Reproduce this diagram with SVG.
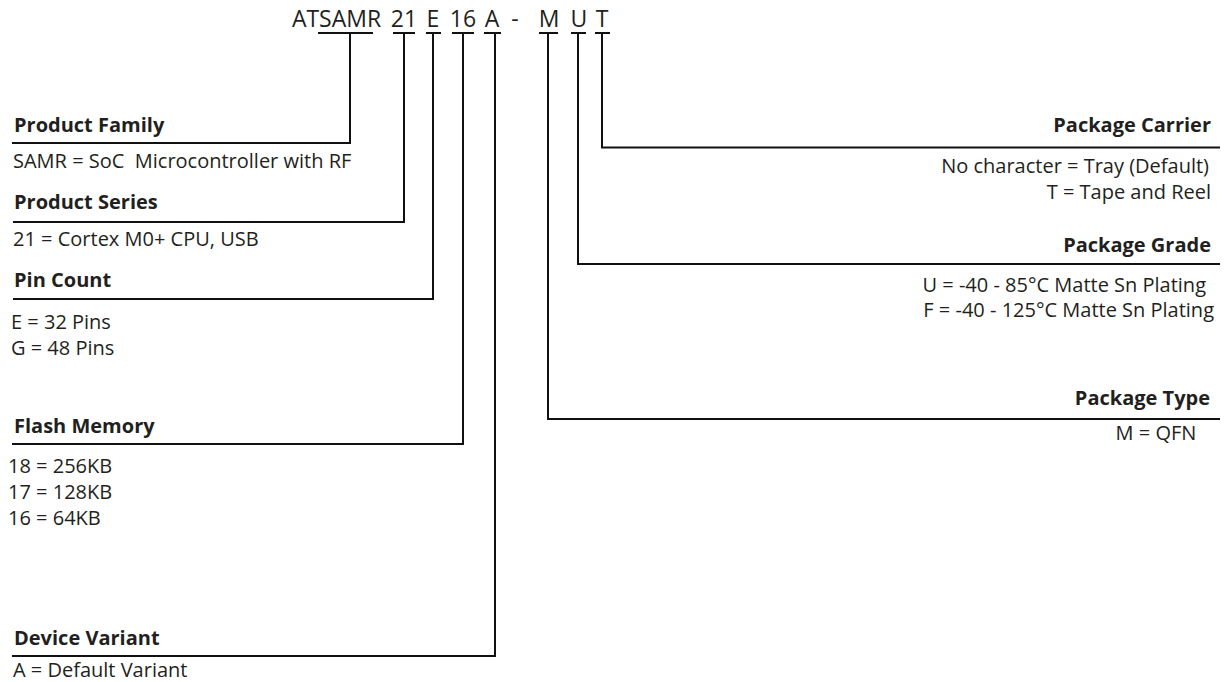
<svg xmlns="http://www.w3.org/2000/svg" width="1224" height="682" viewBox="0 0 1224 682">
<style>
  text { font-family: "Open Sans", "Liberation Sans", sans-serif; fill: #231f20; }
  .pn { font-size: 23px; text-anchor: middle; }
  .h { font-size: 20px; font-weight: bold; }
  .d { font-size: 20px; }
  .r { text-anchor: end; }
  .c { text-anchor: middle; }
  .ln { fill: none; stroke: #111; stroke-width: 2; }
</style>
<rect width="1224" height="682" fill="#ffffff"/>

<g id="part-number">
  <text class="pn" x="336.5" y="27">ATSAMR</text>
  <text class="pn" x="404" y="27">21</text>
  <text class="pn" x="433" y="27">E</text>
  <text class="pn" x="463" y="27">16</text>
  <text class="pn" x="492" y="27">A</text>
  <text class="pn" x="515" y="27">-</text>
  <text class="pn" x="549" y="27">M</text>
  <text class="pn" x="579" y="27">U</text>
  <text class="pn" x="602" y="27">T</text>
</g>

<g id="connectors">
  <!-- T-bars under part number fields -->
  <line class="ln" x1="318" y1="33" x2="373" y2="33"/>
  <line class="ln" x1="393" y1="33" x2="415" y2="33"/>
  <line class="ln" x1="426" y1="33" x2="441" y2="33"/>
  <line class="ln" x1="452" y1="33" x2="474" y2="33"/>
  <line class="ln" x1="484" y1="33" x2="501" y2="33"/>
  <line class="ln" x1="539" y1="33" x2="558" y2="33"/>
  <line class="ln" x1="571" y1="33" x2="586" y2="33"/>
  <line class="ln" x1="595" y1="33" x2="610" y2="33"/>
  <!-- elbows -->
  <polyline class="ln" points="350,33 350,143 12,143"/>
  <polyline class="ln" points="404,33 404,222 13,222"/>
  <polyline class="ln" points="433,33 433,299 13,299"/>
  <polyline class="ln" points="463,33 463,444 12,444"/>
  <polyline class="ln" points="495,33 495,656 12,656"/>
  <polyline class="ln" points="602,33 602,147.5 1220,147.5"/>
  <polyline class="ln" points="578,33 578,264 1220,264"/>
  <polyline class="ln" points="548,33 548,419 1220,419"/>
</g>

<g id="product-family">
  <text class="h" x="14" y="131.5">Product Family</text>
  <text class="d" x="13" y="167.5" xml:space="preserve">SAMR = SoC  Microcontroller with RF</text>
</g>

<g id="product-series">
  <text class="h" x="14" y="209">Product Series</text>
  <text class="d" x="13" y="246">21 = Cortex M0+ CPU, USB</text>
</g>

<g id="pin-count">
  <text class="h" x="14" y="287">Pin Count</text>
  <text class="d" x="11" y="329">E = 32 Pins</text>
  <text class="d" x="11" y="355">G = 48 Pins</text>
</g>

<g id="flash-memory">
  <text class="h" x="14" y="433">Flash Memory</text>
  <text class="d" x="8" y="472.5">18 = 256KB</text>
  <text class="d" x="8" y="499">17 = 128KB</text>
  <text class="d" x="8" y="525">16 = 64KB</text>
</g>

<g id="device-variant">
  <text class="h" x="14" y="645">Device Variant</text>
  <text class="d" x="13" y="677">A = Default Variant</text>
</g>

<g id="package-carrier">
  <text class="h r" x="1211" y="131.5">Package Carrier</text>
  <text class="d r" x="1209" y="173">No character = Tray (Default)</text>
  <text class="d r" x="1211" y="198.5">T = Tape and Reel</text>
</g>

<g id="package-grade">
  <text class="h r" x="1211" y="252">Package Grade</text>
  <text class="d r" x="1206" y="292">U = -40 - 85°C Matte Sn Plating</text>
  <text class="d r" x="1214" y="317">F = -40 - 125°C Matte Sn Plating</text>
</g>

<g id="package-type">
  <text class="h r" x="1210" y="405">Package Type</text>
  <text class="d c" x="1156" y="440">M = QFN</text>
</g>
</svg>
